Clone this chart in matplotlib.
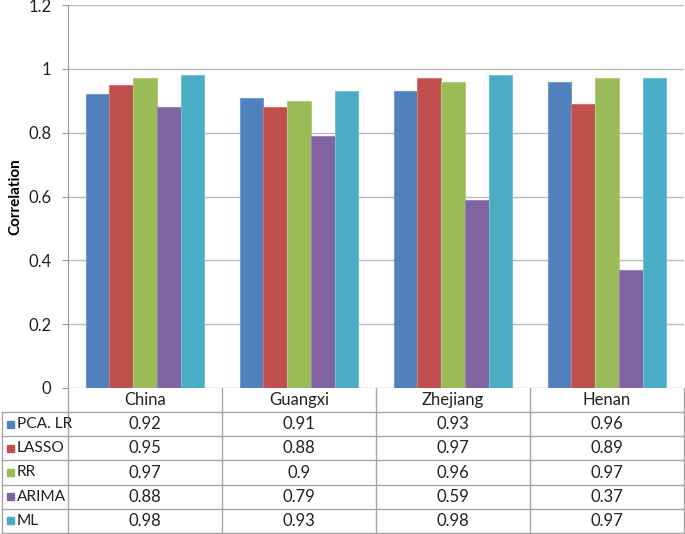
import matplotlib
matplotlib.use("Agg")
import matplotlib.pyplot as plt
import numpy as np

categories = ["China", "Guangxi", "Zhejiang", "Henan"]
series_names = ["PCA. LR", "LASSO", "RR", "ARIMA", "ML"]
pca_lr = [0.92, 0.91, 0.93, 0.96]
lasso = [0.95, 0.88, 0.97, 0.89]
rr = [0.97, 0.9, 0.96, 0.97]
arima = [0.88, 0.79, 0.59, 0.37]
ml = [0.98, 0.93, 0.98, 0.97]
series = [pca_lr, lasso, rr, arima, ml]
table_text = [["0.92", "0.91", "0.93", "0.96"],
              ["0.95", "0.88", "0.97", "0.89"],
              ["0.97", "0.9", "0.96", "0.97"],
              ["0.88", "0.79", "0.59", "0.37"],
              ["0.98", "0.93", "0.98", "0.97"]]
yticks = [0, 0.2, 0.4, 0.6, 0.8, 1, 1.2]
ytick_labels = ["0", "0.2", "0.4", "0.6", "0.8", "1", "1.2"]
colors = ["#4F81BD", "#C0504D", "#9BBB59", "#8064A2", "#4BACC6"]
edge_colors = ["#6F9AD0", "#D27472", "#B1CD7C", "#9A82B8", "#70C0D6"]

plt.rcParams['font.family'] = ['Lato', 'DejaVu Sans']
W, H = 685, 534
fig = plt.figure(figsize=(W / 100, H / 100), dpi=100)
fs = 12

L, R, T, B = 68, 684, 5, 388
ax = fig.add_axes([L / W, (H - B) / H, (R - L) / W, (B - T) / H])
n = len(series)
bw = 1 / (n + 1.5)
x = np.arange(len(categories))
for i, (vals, c, ec) in enumerate(zip(series, colors, edge_colors)):
    ax.bar(x + (i - (n - 1) / 2) * bw, vals, width=bw, color=c,
           edgecolor=ec, linewidth=0.8, zorder=3)
ax.set_xlim(-0.5, len(categories) - 0.5)
ax.set_ylim(0, 1.2)
ax.set_yticks(yticks)
ax.set_yticklabels(ytick_labels, fontsize=fs, color="#222222")
ax.set_xticks([])
ax.grid(axis="y", color="#BBBBBB", linewidth=1.0, zorder=0)
for s in ["top", "right", "bottom"]:
    ax.spines[s].set_visible(False)
ax.spines["left"].set_color("#999999")
ax.tick_params(axis="y", length=4, color="#999999", pad=8)
ax.set_ylabel("Correlation", fontsize=11, fontweight="bold", labelpad=4)

# data table
ta = fig.add_axes([0, 0, 1, (H - B) / H])
ta.set_xlim(0, W)
ta.set_ylim(H, B)
ta.axis("off")
lc = "#A6A6A6"
hdr_bottom = 412
row_h = (533 - hdr_bottom) / n
col_w = (R - L) / len(categories)
ta.plot([L, R], [hdr_bottom, hdr_bottom], color=lc, lw=1)
for j in range(len(categories) + 1):
    xx = L + j * col_w
    ta.plot([xx, xx], [B, 533], color=lc, lw=1)
for j, cat in enumerate(categories):
    ta.text(L + (j + 0.5) * col_w, (B + hdr_bottom) / 2, cat, ha="center",
            va="center", fontsize=fs, color="#222222")
ta.plot([2, 2], [hdr_bottom, 533], color=lc, lw=1)
ta.plot([2, L], [hdr_bottom, hdr_bottom], color=lc, lw=1)
for i in range(n):
    y1 = hdr_bottom + (i + 1) * row_h
    ta.plot([2, R], [y1, y1], color=lc, lw=1)
    yc = hdr_bottom + (i + 0.5) * row_h
    ta.add_patch(plt.Rectangle((7, yc - 3.5), 7, 7, color=colors[i]))
    ta.text(17, yc, series_names[i], ha="left", va="center", fontsize=11.2,
            color="#222222")
    for j in range(len(categories)):
        ta.text(L + (j + 0.5) * col_w, yc, table_text[i][j], ha="center",
                va="center", fontsize=fs, color="#222222")

fig.savefig("out.png", dpi=100)
